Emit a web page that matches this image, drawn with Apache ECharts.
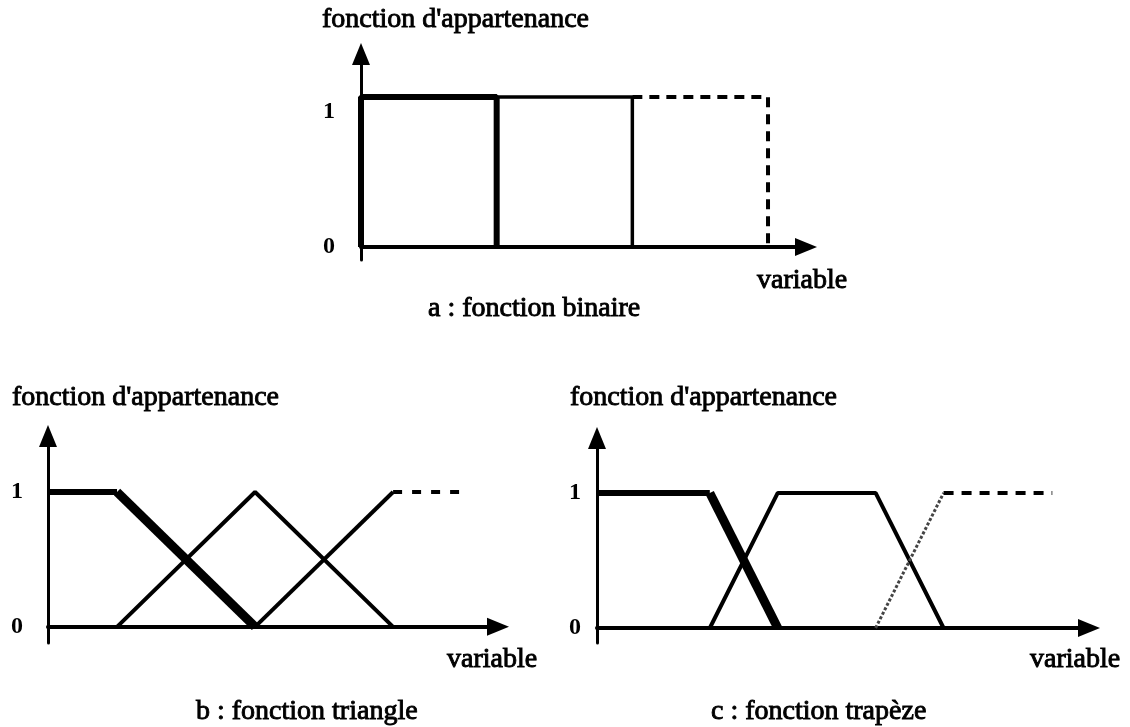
<!DOCTYPE html>
<html>
<head>
<meta charset="utf-8">
<title>Fonctions d'appartenance</title>
<script src="https://cdn.jsdelivr.net/npm/echarts@6/dist/echarts.min.js"></script>
<style>
html, body { margin: 0; padding: 0; background: #fff; }
#chart { width: 1130px; height: 727px; }
</style>
</head>
<body>
<div id="chart"></div>
<script>
// a : fonction binaire
var binaireGauche = [[0, 0], [0, 1], [1, 1], [1, 0]];
var binaireMilieu = [[1, 1], [2, 1], [2, 0]];
var binaireDroite = [[2, 1], [3, 1], [3, 0]];

// b : fonction triangle
var trianglePlateau = [[0, 1], [0.5, 1]];
var trianglePente = [[0.5, 1], [1.5, 0]];
var triangleMilieu = [[0.5, 0], [1.5, 1], [2.5, 0]];
var triangleDroite = [[1.5, 0], [2.5, 1]];
var triangleSuite = [[2.5, 1], [3.02, 1]];

// c : fonction trapeze
var trapezePlateau = [[0, 1], [1.66, 1]];
var trapezePente = [[1.66, 1], [2.66, 0]];
var trapezeMilieu = [[1.66, 0], [2.66, 1], [4.1, 1], [5.1, 0]];
var trapezeDroite = [[4.1, 0], [5.1, 1]];
var trapezeSuite = [[5.1, 1], [6.7, 1]];

var yTicks = [0, 1];
var titreAxeY = "fonction d'appartenance";
var titreAxeX = 'variable';
var legendes = ['a : fonction binaire', 'b : fonction triangle', 'c : fonction trap\u00e8ze'];

var police = '"Liberation Serif", "Times New Roman", serif';

function ligne(idx, data, width, type, color) {
	return {
		type: 'line',
		xAxisIndex: idx,
		yAxisIndex: idx,
		data: data,
		symbol: 'none',
		clip: false,
		silent: true,
		lineStyle: { color: color || '#000', width: width, type: type || 'solid', cap: 'butt' }
	};
}

function axeX(idx, max) {
	return {
		type: 'value', gridIndex: idx, min: 0, max: max,
		axisLine: { onZero: true, symbol: ['none', 'triangle'], symbolSize: [18, 22], lineStyle: { color: '#000', width: 4 } },
		axisTick: { show: false }, axisLabel: { show: false }, splitLine: { show: false }
	};
}

function axeY(idx, min, max, marge, decale) {
	return {
		type: 'value', gridIndex: idx, min: min, max: max,
		axisLine: { onZero: true, symbol: ['none', 'triangle'], symbolSize: [18, 22], lineStyle: { color: '#000', width: 3 } },
		axisTick: { show: false }, splitLine: { show: false },
		axisLabel: {
			customValues: yTicks,
			margin: marge,
			color: '#000',
			fontFamily: police,
			fontSize: 24,
			fontWeight: 'bold',
			formatter: function (v) { return v === 1 && decale ? '{bas|1}' : String(v); },
			rich: { bas: { padding: [30, 0, 0, 0], fontFamily: police, fontSize: 24, fontWeight: 'bold', color: '#000' } }
		}
	};
}

function texte(x, y, t) {
	return {
		type: 'text', x: x, y: y, silent: true,
		style: { text: t, font: '28px ' + police, fill: '#000', stroke: '#000', lineWidth: 0.9, textAlign: 'left', textVerticalAlign: 'middle' }
	};
}

var chart = echarts.init(document.getElementById('chart'), null, { renderer: 'canvas' });

chart.setOption({
	animation: false,
	backgroundColor: '#fff',
	grid: [
		{ left: 361, top: 54, width: 445, height: 206, outerBoundsMode: 'none' },
		{ left: 48, top: 436, width: 450, height: 207, outerBoundsMode: 'none' },
		{ left: 597, top: 438, width: 492, height: 205, outerBoundsMode: 'none' }
	],
	xAxis: [axeX(0, 3.28), axeX(1, 3.26), axeX(2, 7.24)],
	yAxis: [axeY(0, -0.087, 1.287, 26, true), axeY(1, -0.12, 1.415, 25, false), axeY(2, -0.111, 1.407, 16, false)],
	series: [
		ligne(0, binaireGauche, 6),
		ligne(0, binaireMilieu, 3.5),
		ligne(0, binaireDroite, 4, [10, 7]),

		ligne(1, trianglePlateau, 6),
		ligne(1, trianglePente, 9),
		ligne(1, triangleMilieu, 4),
		ligne(1, triangleDroite, 4),
		ligne(1, triangleSuite, 4, [9, 10]),

		ligne(2, trapezePlateau, 6),
		ligne(2, trapezePente, 9),
		ligne(2, trapezeMilieu, 4),
		ligne(2, trapezeDroite, 3, [3, 2], '#444'),
		ligne(2, trapezeSuite, 4, [10, 8])
	],
	graphic: [
		texte(322, 19.5, titreAxeY),
		texte(757, 280.5, titreAxeX),
		texte(428, 308.5, legendes[0]),

		texte(12, 397.5, titreAxeY),
		texte(447, 660, titreAxeX),
		texte(196, 711.5, legendes[1]),

		texte(570, 397.5, titreAxeY),
		texte(1030, 660, titreAxeX),
		texte(711, 711.5, legendes[2])
	]
});
</script>
</body>
</html>
